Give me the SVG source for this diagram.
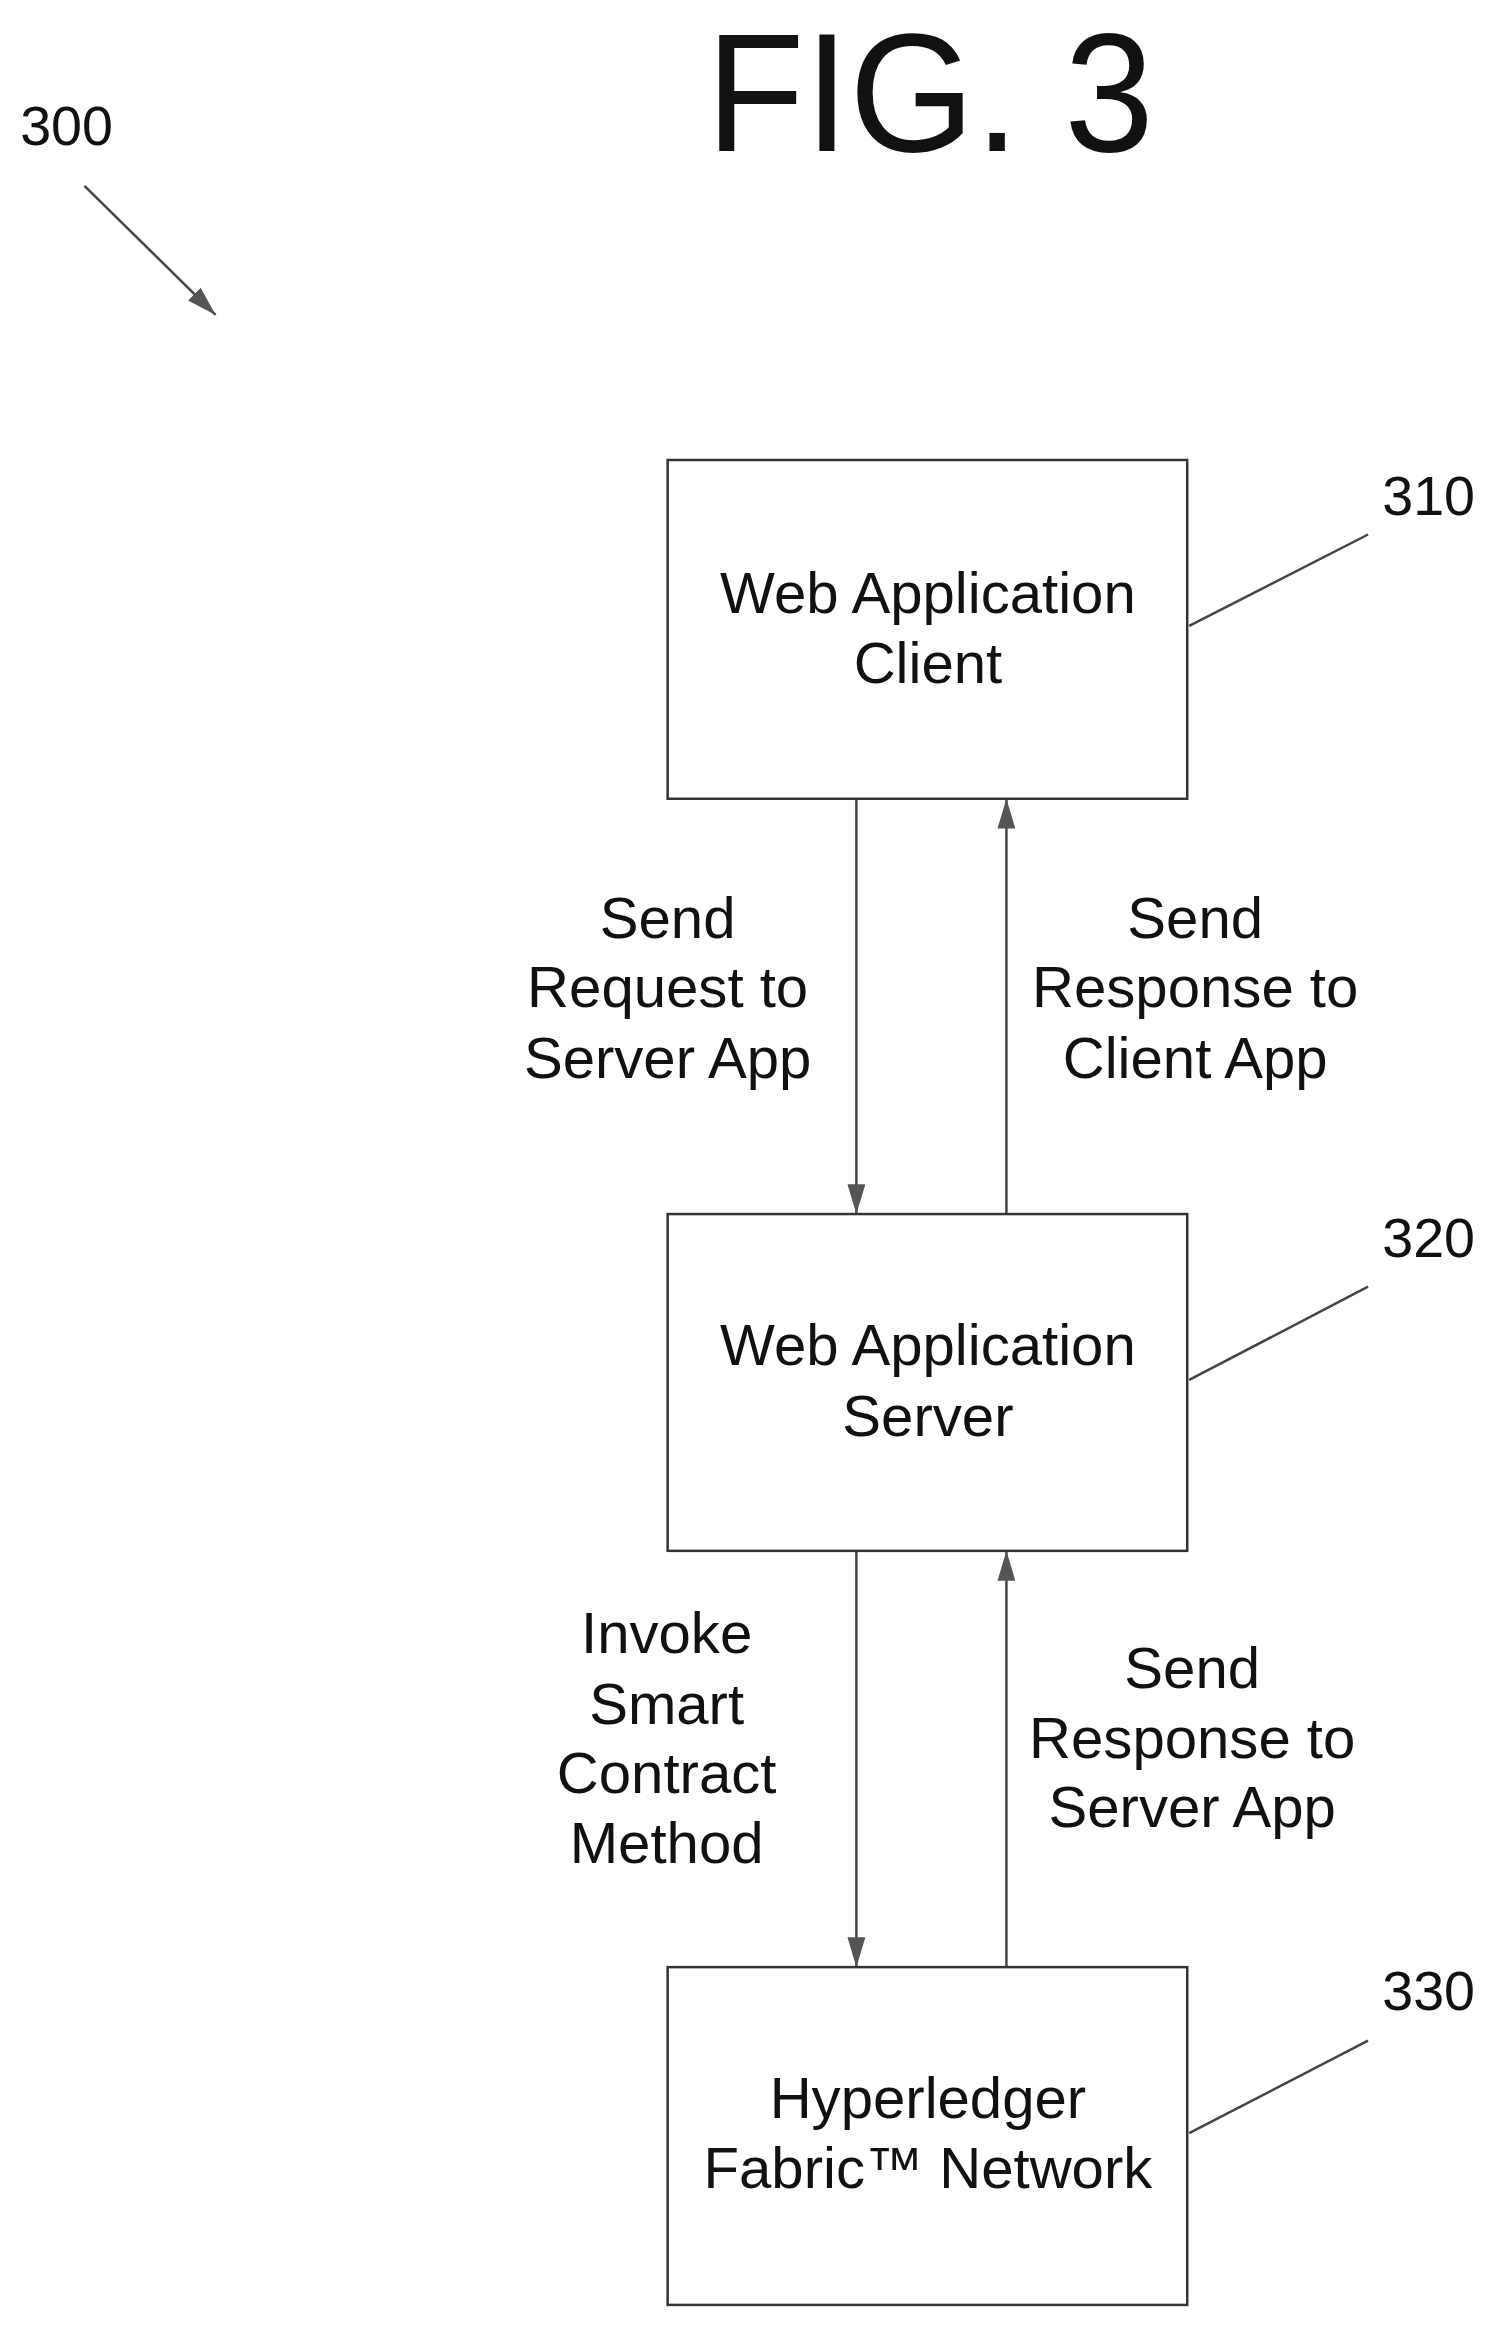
<svg xmlns="http://www.w3.org/2000/svg" width="1494" height="2326" viewBox="0 0 1494 2326">
<style>
text{font-family:"Liberation Sans",Arial,sans-serif;fill:#111;text-anchor:middle}
.t{font-size:58.5px}
.r{font-size:56px}
.box{fill:#fff;stroke:#333;stroke-width:2.5}
.ln{stroke:#444;stroke-width:2.5;fill:none}
</style>
<defs>
<marker id="ah" viewBox="0 0 30 18" refX="30" refY="9" markerWidth="30" markerHeight="18" markerUnits="userSpaceOnUse" orient="auto">
<path d="M0,0 L30,9 L0,18 Z" fill="#555"/>
</marker>
</defs>
<rect width="1494" height="2326" fill="#fff"/>
<g transform="scale(0.9935)">
<text x="936" y="152" font-size="170" textLength="451" lengthAdjust="spacingAndGlyphs">FIG. 3</text>
<text x="67" y="146" class="r">300</text>
<g id="connectors">
<line class="ln" x1="85" y1="187" x2="217" y2="317" marker-end="url(#ah)"/>
<line class="ln" x1="862" y1="804" x2="862" y2="1222" marker-end="url(#ah)"/>
<line class="ln" x1="1013" y1="1222" x2="1013" y2="804" marker-end="url(#ah)"/>
<line class="ln" x1="862" y1="1561" x2="862" y2="1980" marker-end="url(#ah)"/>
<line class="ln" x1="1013" y1="1980" x2="1013" y2="1561" marker-end="url(#ah)"/>
<line class="ln" x1="1197" y1="630" x2="1377" y2="538"/>
<line class="ln" x1="1197" y1="1389" x2="1377" y2="1295"/>
<line class="ln" x1="1197" y1="2147" x2="1377" y2="2054"/>
<text class="t" x="672" y="944">Send</text>
<text class="t" x="672" y="1014">Request to</text>
<text class="t" x="672" y="1085">Server App</text>
<text class="t" x="1203" y="944">Send</text>
<text class="t" x="1203" y="1014">Response to</text>
<text class="t" x="1203" y="1085">Client App</text>
<text class="t" x="671" y="1664">Invoke</text>
<text class="t" x="671" y="1735">Smart</text>
<text class="t" x="671" y="1805">Contract</text>
<text class="t" x="671" y="1875">Method</text>
<text class="t" x="1200" y="1699">Send</text>
<text class="t" x="1200" y="1769">Response to</text>
<text class="t" x="1200" y="1839">Server App</text>
</g>
<g id="n310">
<rect class="box" x="672" y="463" width="523" height="341"/>
<text class="t" x="934" y="617">Web Application</text>
<text class="t" x="934" y="687">Client</text>
<text class="r" x="1438" y="518">310</text>
</g>
<g id="n320">
<rect class="box" x="672" y="1222" width="523" height="339"/>
<text class="t" x="934" y="1374">Web Application</text>
<text class="t" x="934" y="1445">Server</text>
<text class="r" x="1438" y="1265">320</text>
</g>
<g id="n330">
<rect class="box" x="672" y="1980" width="523" height="340"/>
<text class="t" x="934" y="2132">Hyperledger</text>
<text class="t" x="934" y="2202">Fabric™ Network</text>
<text class="r" x="1438" y="2023">330</text>
</g>
</g>
</svg>
